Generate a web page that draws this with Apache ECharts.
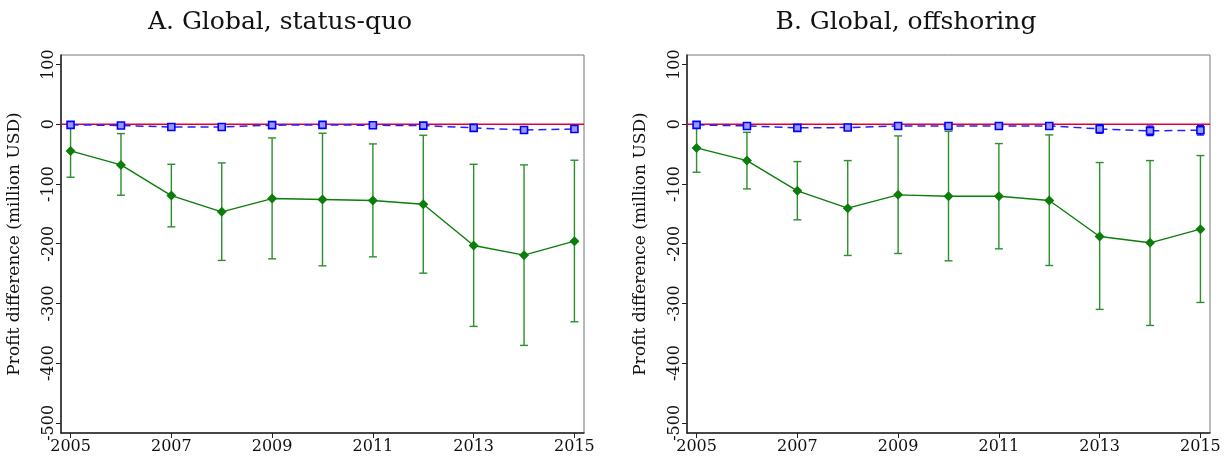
<!DOCTYPE html>
<html>
<head>
<meta charset="utf-8">
<script src="https://cdn.jsdelivr.net/npm/echarts@6/dist/echarts.min.js"></script>
<style>
  html, body { margin: 0; padding: 0; background: #fff; }
  #chart { width: 1229px; height: 463px; }
</style>
</head>
<body>
<div id="chart"></div>
<script>
// Years on the x axis
const years = [2005, 2006, 2007, 2008, 2009, 2010, 2011, 2012, 2013, 2014, 2015];
const xTicks = [2005, 2007, 2009, 2011, 2013, 2015];
const yTicks = [-500, -400, -300, -200, -100, 0, 100];

// Panel A: status-quo
const statusQuoMain   = [-44.6, -68, -119.4, -146.7, -124.4, -126, -127.7, -133.9, -203, -219.2, -195.8];
const statusQuoMainLo = [-88.7, -118.8, -171.8, -228, -225.3, -237, -222, -249.3, -338.5, -370.3, -330.7];
const statusQuoMainHi = [-1, -15.6, -67, -64.7, -22.9, -15, -32.9, -18.4, -67, -68, -60.2];
const statusQuoSec    = [-1, -2, -4.5, -4.5, -1.5, -1, -1.7, -2.2, -6, -9.5, -7.8];
const statusQuoSecLo  = [-2.5, -3.5, -6, -6, -3, -2.5, -3.2, -4, -9.5, -14, -12.5];
const statusQuoSecHi  = [0.5, -0.5, -3, -3, 0, 0.5, -0.2, -0.5, -2.5, -5, -3];

// Panel B: offshoring
const offshoringMain   = [-39.6, -60.8, -111.5, -140.5, -118.2, -120.5, -120.5, -127.7, -188, -198.5, -175.7];
const offshoringMainLo = [-80.3, -108.2, -160, -219.7, -216.4, -228.7, -208.6, -236.5, -310, -336.9, -298.4];
const offshoringMainHi = [-1, -13.4, -62.5, -60.8, -19.5, -11.7, -32.3, -17.8, -64.1, -60.8, -52.4];
const offshoringSec    = [-1, -2.8, -6, -5.5, -2.8, -2.8, -2.8, -2.8, -7.8, -11, -10];
const offshoringSecLo  = [-2.5, -4.5, -8, -7.5, -4.5, -5, -5, -6, -15, -19, -18];
const offshoringSecHi  = [0.5, -1, -4, -3.5, -1, -0.8, -0.8, 0.5, -0.5, -3, -2];

const panelTitles = ['A. Global, status-quo', 'B. Global, offshoring'];
const yAxisName = 'Profit difference (million USD)';

const GREEN = '#0b7d0b';
const GREEN_BAR = '#2c8f2c';
const BLUE = '#0000ff';
const RED = '#e0003a';
const SERIF = '"DejaVu Serif", "Liberation Serif", serif';

const panels = [
  { main: statusQuoMain, lo: statusQuoMainLo, hi: statusQuoMainHi, sec: statusQuoSec, secLo: statusQuoSecLo, secHi: statusQuoSecHi },
  { main: offshoringMain, lo: offshoringMainLo, hi: offshoringMainHi, sec: offshoringSec, secLo: offshoringSecLo, secHi: offshoringSecHi }
];

function pairs(xs, ys) { return xs.map((x, i) => [x, ys[i]]); }
function triples(xs, lo, hi) { return xs.map((x, i) => [x, lo[i], hi[i]]); }

function errorBars(gridIdx, data, color, capHalf, width, z) {
  return {
    type: 'custom',
    xAxisIndex: gridIdx, yAxisIndex: gridIdx,
    data: data,
    z: z,
    silent: true,
    renderItem: function (params, api) {
      const x = api.value(0);
      const a = api.coord([x, api.value(1)]);
      const b = api.coord([x, api.value(2)]);
      const st = { stroke: color, lineWidth: width };
      return {
        type: 'group',
        children: [
          { type: 'line', shape: { x1: a[0], y1: a[1], x2: b[0], y2: b[1] }, style: st },
          { type: 'line', shape: { x1: a[0] - capHalf, y1: a[1], x2: a[0] + capHalf, y2: a[1] }, style: st },
          { type: 'line', shape: { x1: b[0] - capHalf, y1: b[1], x2: b[0] + capHalf, y2: b[1] }, style: st }
        ]
      };
    }
  };
}

const grids = [
  { left: 61, top: 55, width: 523, height: 378 },
  { left: 687, top: 55, width: 523, height: 378 }
].map(g => Object.assign(g, { show: true, borderColor: '#777', borderWidth: 1, backgroundColor: 'transparent' }));

const xAxes = [0, 1].map(i => ({
  type: 'value', gridIndex: i, min: 2004.81, max: 2015.19,
  splitLine: { show: false },
  axisLine: { show: true, onZero: false, lineStyle: { color: '#222', width: 1.5 } },
  axisTick: { show: true, length: 5, customValues: xTicks, lineStyle: { color: '#222', width: 1 } },
  axisLabel: { customValues: xTicks, color: '#111', fontFamily: SERIF, fontSize: 16, margin: 6, formatter: v => String(v) }
}));

const yAxes = [0, 1].map(i => ({
  type: 'value', gridIndex: i, min: -517, max: 116,
  name: yAxisName, nameLocation: 'middle', nameGap: 38,
  nameTextStyle: { fontFamily: SERIF, fontSize: 17, color: '#111' },
  splitLine: { show: false },
  axisLine: { show: true, onZero: false, lineStyle: { color: '#222', width: 1.5 } },
  axisTick: { show: true, length: 5, customValues: yTicks, lineStyle: { color: '#222', width: 1 } },
  axisLabel: { customValues: yTicks, rotate: 90, color: '#111', fontFamily: SERIF, fontSize: 16, margin: 4, formatter: v => String(v) }
}));

const series = [];
panels.forEach((p, i) => {
  // zero reference line
  series.push({
    type: 'line', xAxisIndex: i, yAxisIndex: i, data: [[2004.81, 0], [2015.19, 0]],
    symbol: 'none', lineStyle: { color: RED, width: 1.5 }, z: 2, silent: true
  });
  series.push(errorBars(i, triples(years, p.lo, p.hi), GREEN_BAR, 4, 1.4, 3));
  series.push({
    type: 'line', xAxisIndex: i, yAxisIndex: i, data: pairs(years, p.main),
    symbol: 'diamond', symbolSize: 10, showSymbol: true,
    itemStyle: { color: GREEN }, lineStyle: { color: GREEN, width: 1.4 }, z: 4, silent: true
  });
  series.push(errorBars(i, triples(years, p.secLo, p.secHi), BLUE, 3.5, 1.3, 5));
  series.push({
    type: 'line', xAxisIndex: i, yAxisIndex: i, data: pairs(years, p.sec),
    symbol: 'rect', symbolSize: 7, showSymbol: true,
    itemStyle: { color: '#9a9aff', borderColor: BLUE, borderWidth: 1.6 },
    lineStyle: { color: '#2222ff', width: 1.5, type: [8, 5] }, z: 6, silent: true
  });
});

const chart = echarts.init(document.getElementById('chart'), null, { renderer: 'canvas' });
chart.setOption({
  animation: false,
  backgroundColor: '#fff',
  grid: grids,
  xAxis: xAxes,
  yAxis: yAxes,
  series: series,
  graphic: [
    { type: 'text', x: 280, y: 22, style: { text: panelTitles[0], fontFamily: SERIF, fontSize: 25, fill: '#111', textAlign: 'center', textVerticalAlign: 'middle' } },
    { type: 'text', x: 906, y: 22, style: { text: panelTitles[1], fontFamily: SERIF, fontSize: 25, fill: '#111', textAlign: 'center', textVerticalAlign: 'middle' } }
  ]
});
</script>
</body>
</html>
